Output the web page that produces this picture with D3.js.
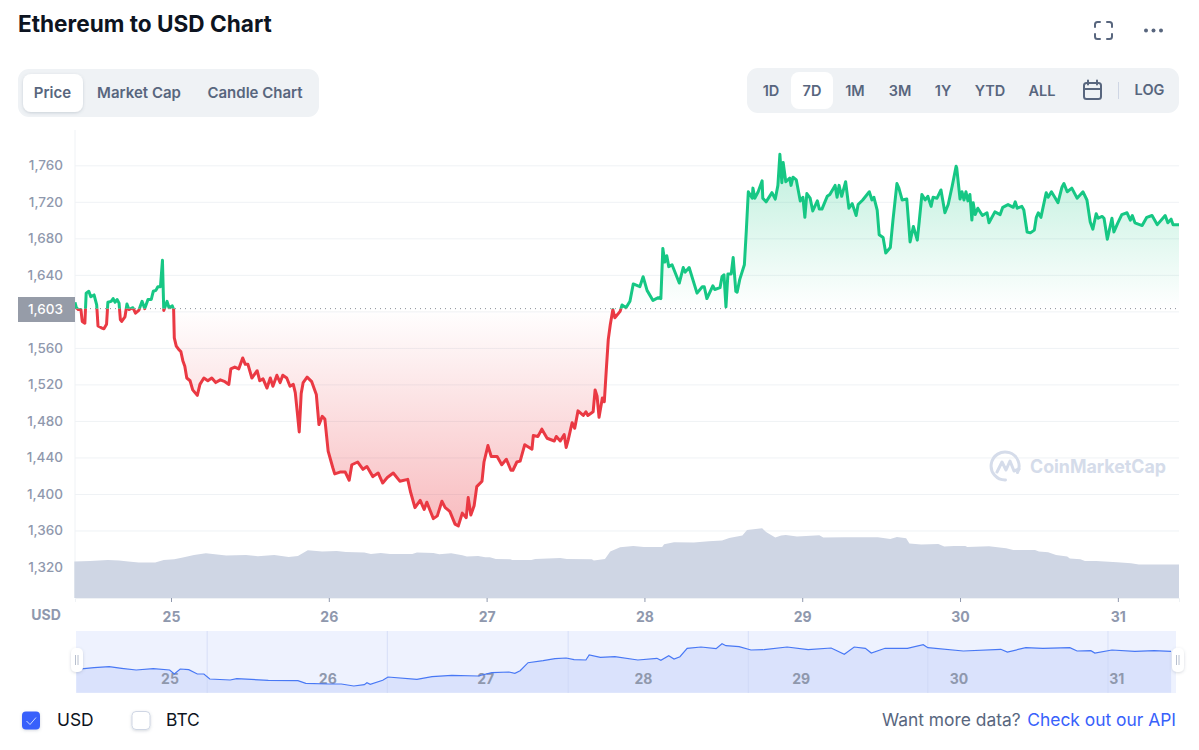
<!DOCTYPE html>
<html><head><meta charset="utf-8">
<script src="https://cdn.jsdelivr.net/npm/d3@7/dist/d3.min.js"></script>
<style>
html,body{margin:0;padding:0;background:#fff;overflow:hidden}
svg{display:block}
text{font-family:Inter,"Noto Sans",sans-serif}
</style></head><body>
<svg id="c" width="1199" height="750"></svg>
<script>
// hours since 00:00 on the 24th
const priceHours=[9.4,9.6,9.9,10.3,10.5,10.9,11.1,11.5,11.8,12.3,12.7,12.9,13.4,13.8,14.2,14.4,14.9,15.2,15.5,15.8,16.1,16.3,16.5,17.0,17.3,17.6,18.2,18.6,19.1,19.6,20.0,20.5,21.0,21.3,21.7,22.0,22.4,22.7,22.9,23.4,23.7,24.2,24.4,24.5,24.8,25.2,25.5,25.8,26.1,26.4,26.9,27.3,28.0,28.4,29.0,29.6,30.2,30.8,31.5,32.2,32.8,33.1,33.7,34.3,34.9,35.3,35.7,36.3,37.1,37.5,38.0,38.6,39.1,39.5,40.1,40.6,41.0,41.6,42.1,42.6,42.9,43.2,43.5,43.8,44.1,44.7,45.4,46.1,46.5,47.0,47.4,47.9,48.6,48.9,49.7,50.5,51.1,51.5,52.4,53.2,53.8,54.7,55.5,56.2,56.9,57.8,58.8,60.0,60.4,61.1,61.9,62.5,62.9,63.9,64.5,65.2,65.7,66.4,67.2,67.7,68.3,68.9,69.2,69.6,70.1,70.5,71.3,71.6,72.2,72.7,73.6,74.3,75.0,75.7,76.0,76.6,77.1,77.8,78.9,79.1,79.8,80.4,81.2,82.3,82.6,83.2,83.8,84.1,84.4,85.0,85.4,85.9,86.7,87.1,87.4,88.2,88.5,88.8,89.1,89.6,89.9,90.2,90.5,90.8,91.2,91.5,92.3,92.6,93.2,93.8,94.3,95.3,95.8,96.4,97.3,98.1,98.5,98.8,99.1,99.4,99.7,100.2,101.3,101.9,102.2,102.8,104.0,104.8,105.1,105.5,106.4,106.7,107.5,107.8,108.1,108.4,108.7,109.2,109.5,109.9,110.1,110.5,111.2,111.5,111.8,112.4,112.5,112.8,113.3,113.9,114.0,114.5,115.4,115.9,116.3,116.6,116.9,117.1,117.5,118.1,118.3,118.6,119.1,119.7,120.1,120.4,120.7,121.2,121.6,122.3,122.6,123.0,123.8,124.2,125.0,125.3,125.6,126.0,126.6,127.1,127.6,128.2,128.5,129.2,130.2,130.6,130.9,131.4,131.7,132.3,132.7,133.4,133.8,134.4,134.7,135.2,135.9,136.4,136.9,137.5,137.8,138.2,138.7,139.1,139.6,139.9,140.5,141.1,141.7,142.2,142.8,143.4,143.5,144.0,144.3,144.6,144.9,145.2,145.5,145.8,146.0,146.3,146.7,147.4,148.1,148.4,149.3,150.1,150.5,151.3,152.1,152.4,152.7,153.4,153.7,154.2,154.7,155.3,155.6,155.9,156.3,157.1,157.4,157.9,158.5,158.9,159.5,159.8,160.3,161.0,161.8,162.7,163.3,163.8,164.2,164.7,165.0,165.6,165.9,166.4,167.1,167.4,168.0,168.6,169.4,169.9,170.2,170.6,171.7,172.4,173.2,174.0,175.2,175.6,176.1,176.4,177.3];
const prices=[1610,1604,1602,1602,1589,1587,1620,1622,1616,1618,1607,1584,1582,1581,1586,1610,1611,1614,1610,1613,1609,1591,1589,1594,1608,1602,1604,1598,1601,1611,1603,1613,1613,1622,1623,1627,1627,1656,1601,1611,1604,1606,1602,1571,1562,1558,1556,1546,1540,1527,1524,1514,1508,1520,1527,1524,1527,1522,1525,1523,1520,1537,1539,1537,1549,1542,1542,1527,1535,1524,1526,1516,1527,1518,1530,1522,1530,1527,1518,1520,1511,1490,1468,1510,1522,1528,1523,1509,1476,1485,1482,1447,1429,1422,1424,1424,1415,1432,1435,1427,1430,1419,1423,1412,1418,1423,1414,1416,1403,1385,1393,1383,1391,1373,1376,1392,1385,1381,1367,1365,1379,1374,1396,1377,1387,1408,1414,1435,1453,1441,1441,1432,1438,1426,1426,1435,1436,1454,1449,1464,1463,1471,1461,1458,1463,1458,1465,1451,1459,1478,1472,1491,1486,1490,1486,1490,1514,1507,1484,1505,1501,1536,1569,1585,1602,1593,1600,1607,1604,1611,1630,1627,1638,1623,1612,1615,1614,1669,1654,1661,1649,1651,1631,1648,1643,1648,1620,1627,1627,1614,1628,1624,1626,1638,1640,1605,1641,1641,1659,1622,1621,1635,1651,1689,1731,1724,1735,1724,1731,1743,1724,1720,1730,1723,1738,1772,1741,1763,1742,1746,1738,1747,1744,1721,1725,1703,1729,1724,1710,1721,1712,1712,1726,1728,1738,1725,1738,1726,1742,1713,1718,1705,1717,1722,1731,1722,1725,1711,1684,1681,1664,1670,1700,1740,1735,1722,1723,1676,1693,1678,1699,1728,1722,1726,1715,1725,1724,1733,1708,1717,1737,1759,1757,1723,1731,1722,1731,1721,1728,1700,1719,1706,1713,1705,1708,1697,1709,1706,1714,1717,1714,1720,1713,1715,1711,1687,1686,1689,1703,1708,1703,1730,1725,1731,1724,1719,1736,1740,1731,1735,1724,1731,1722,1698,1690,1707,1702,1704,1702,1679,1702,1687,1697,1706,1708,1700,1705,1697,1694,1703,1705,1695,1705,1697,1701,1695,1695];
const volumeHours=[9.3,11.7,14.4,16.1,17.5,19.1,21.6,22.9,24.5,25.8,27.5,29.3,32.4,35.4,37.2,39.7,41.9,43.3,44.8,47.0,49.2,50.6,53.4,54.4,55.9,57.3,60.7,61.4,63.9,64.8,66.6,68.3,69.0,70.7,71.8,72.5,73.4,75.6,75.9,78.8,79.4,83.2,84.2,88.0,88.3,90.0,90.8,92.3,94.3,95.9,98.7,99.0,100.5,103.5,105.8,107.8,108.9,110.9,111.6,113.9,114.5,115.9,116.8,117.5,119.2,120.6,122.6,123.2,126.5,128.2,131.5,133.4,134.4,135.8,136.3,138.1,140.7,141.6,143.1,144.8,145.1,148.4,151.0,152.1,155.4,156.0,157.4,158.6,160.3,160.7,162.3,163.0,164.7,167.9,170.0,171.2,177.3];
const volumes=[18.2,18.5,19.0,18.7,18.2,17.7,17.7,19.0,19.4,20.2,21.5,22.4,21.2,21.5,20.9,21.5,20.5,21.0,23.9,23.2,23.5,23.0,22.7,22.0,22.5,22.0,22.0,22.7,22.5,21.9,22.4,21.4,20.7,21.0,20.4,20.4,19.5,19.4,19.0,19.0,19.5,20.0,19.5,19.4,18.7,19.5,23.2,25.4,26.0,25.5,25.5,26.9,27.9,27.7,28.4,28.7,30.0,31.2,34.0,34.9,33.0,30.2,31.2,31.5,30.7,31.0,31.4,30.2,30.4,30.4,30.4,29.5,30.5,29.9,27.2,26.7,27.0,25.7,26.0,26.0,25.5,25.9,24.9,24.0,24.0,23.2,22.9,21.5,20.7,19.7,19.4,18.5,18.5,17.9,17.4,16.7,16.7];
const navHours=[9.6,12.3,14.6,16.5,18.7,21.3,23.8,24.5,25.4,26.7,28.0,29.0,29.9,33.0,34.0,38.8,43.3,44.5,48.0,49.9,51.8,53.4,53.8,54.3,56.2,57.0,61.4,63.7,66.7,70.7,72.8,75.4,76.3,77.1,78.3,80.6,82.4,84.1,85.3,87.1,87.6,89.3,91.5,95.0,97.9,98.5,99.7,100.5,101.4,102.5,104.6,106.9,107.8,108.4,110.4,112.2,114.2,117.7,120.9,124.4,126.4,127.9,129.6,130.5,132.6,136.0,138.4,139.1,144.5,150.2,151.2,154.0,156.6,160.7,161.8,163.9,164.5,167.1,170.6,173.5,176.1];
const navValues=[1234,1250,1260,1244,1227,1240,1227,1187,1237,1230,1187,1187,1137,1127,1140,1124,1120,1094,1087,1087,1067,1080,1100,1084,1124,1157,1134,1160,1174,1167,1200,1207,1194,1220,1300,1320,1340,1347,1330,1327,1377,1354,1360,1327,1344,1324,1370,1337,1360,1444,1457,1440,1490,1470,1460,1427,1430,1457,1430,1447,1384,1457,1444,1397,1444,1444,1480,1450,1417,1434,1407,1450,1444,1450,1417,1420,1397,1427,1414,1420,1414];
const navGridHours=[29.5,56.9,84.4,111.8,139.1,166.5];
const basePrice=1603;
const yTicks=[1320,1360,1400,1440,1480,1520,1560,1600,1640,1680,1720,1760];
const dayTicks=[24,48,72,96,120,144,168];
const dayLabels=["25","26","27","28","29","30","31"];
const typeTabs=["Price","Market Cap","Candle Chart"];
const rangeTabs=["1D","7D","1M","3M","1Y","YTD","ALL"];

const svg=d3.select("#c");
const gray="#58667e",tick="#8f98ad",grid="#eff2f5";
const x=d3.scaleLinear().domain([9.4,177.3]).range([75,1179]);
const y=d3.scaleLinear().domain([1320,1760]).range([567,165.3]);
const vol=d3.scaleLinear().domain([0,35]).range([598,528]);
const nav=d3.scaleLinear().domain([1000,1617]).range([692.7,631]);
const pts=priceHours.map((h,i)=>[h,prices[i]]);
const by=y(basePrice);

const defs=svg.append("defs");
function grad(id,y1,y2,c,a1,a2){const g=defs.append("linearGradient").attr("id",id).attr("gradientUnits","userSpaceOnUse").attr("x1",0).attr("x2",0).attr("y1",y1).attr("y2",y2);
 g.append("stop").attr("offset",0).attr("stop-color",c).attr("stop-opacity",a1);
 g.append("stop").attr("offset",1).attr("stop-color",c).attr("stop-opacity",a2);}
grad("gG",y(1772),by,"#16c784",.28,0);
grad("gR",by,y(1365),"#ea3943",0,.34);
defs.append("clipPath").attr("id","up").append("rect").attr("x",70).attr("y",100).attr("width",1112).attr("height",by-100);
defs.append("clipPath").attr("id","dn").append("rect").attr("x",70).attr("y",by).attr("width",1112).attr("height",598-by);
const sh=defs.append("filter").attr("id","sh").attr("x","-40%").attr("y","-40%").attr("width","180%").attr("height","180%");
sh.append("feDropShadow").attr("dx",0).attr("dy",1).attr("stdDeviation",1.5).attr("flood-color","#58667e").attr("flood-opacity",.25);

// header
svg.append("text").attr("x",18).attr("y",32).attr("font-size",22.6).attr("font-weight",700).attr("fill","#0d1421").text("Ethereum to USD Chart");
const fs=svg.append("g").attr("fill","none").attr("stroke",gray).attr("stroke-width",2).attr("stroke-linecap","round");
fs.append("path").attr("d","M1095 27v-2.500a2.500 2.500 0 0 1 2.500-2.500h2.500M1107 22h2.500a2.500 2.500 0 0 1 2.500 2.500v2.500M1112 34v2.500a2.500 2.500 0 0 1-2.500 2.500h-2.500M1100 39h-2.500a2.500 2.500 0 0 1-2.500-2.500v-2.500");
[1146,1153.500,1161].forEach(c=>svg.append("circle").attr("cx",c).attr("cy",30.500).attr("r",2).attr("fill",gray));

svg.append("rect").attr("x",18).attr("y",69).attr("width",301).attr("height",48).attr("rx",11).attr("fill",grid);
svg.append("rect").attr("x",23).attr("y",74).attr("width",60).attr("height",38).attr("rx",8).attr("fill","#fff").attr("filter","url(#sh)");
const typeX=[52.500,139,255];
typeTabs.forEach((t,i)=>svg.append("text").attr("x",typeX[i]).attr("y",98).attr("text-anchor","middle").attr("font-size",15).attr("font-weight",600).attr("fill",gray).text(t));

svg.append("rect").attr("x",747).attr("y",68).attr("width",432).attr("height",45).attr("rx",11).attr("fill",grid);
svg.append("rect").attr("x",791).attr("y",72).attr("width",42).attr("height",37).attr("rx",8).attr("fill","#fff");
const rangeX=[771,812,855,900,943,990,1042];
rangeTabs.forEach((t,i)=>svg.append("text").attr("x",rangeX[i]).attr("y",96).attr("text-anchor","middle").attr("font-size",14.500).attr("font-weight",600).attr("fill",gray).text(t));
const cal=svg.append("g").attr("fill","none").attr("stroke",gray).attr("stroke-width",2);
cal.append("rect").attr("x",1084).attr("y",83).attr("width",17).attr("height",16).attr("rx",2.500);
cal.append("path").attr("d","M1084 89h17M1088 80.500v4M1097 80.500v4").attr("stroke-linecap","round");
svg.append("line").attr("x1",1118.500).attr("x2",1118.500).attr("y1",82).attr("y2",99).attr("stroke","#cfd6e4");
svg.append("text").attr("x",1149.500).attr("y",95).attr("text-anchor","middle").attr("font-size",14.500).attr("font-weight",600).attr("fill",gray).text("LOG");

// y axis + grid
const yAxis=svg.append("g").attr("transform","translate(75,0)").call(d3.axisLeft(y).tickValues(yTicks).tickFormat(d3.format(",")).tickSize(-1104).tickPadding(12));
yAxis.select(".domain").remove();
yAxis.selectAll("line").attr("stroke",grid);
yAxis.selectAll("text").attr("font-size",13.500).attr("font-weight",500).attr("fill",tick).attr("font-family","Inter");
svg.append("line").attr("x1",75).attr("x2",75).attr("y1",130).attr("y2",598).attr("stroke",grid);

// watermark
const wm=svg.append("g");
wm.append("path").attr("d","M1017.500 472.500A14 14 0 1 0 1005.500 480").attr("fill","none").attr("stroke","#d5dcea").attr("stroke-width",3).attr("stroke-linecap","round");
wm.append("path").attr("d","M997 472l5-10 4 8 4-9 4 10 5-2").attr("fill","none").attr("stroke","#d5dcea").attr("stroke-width",3).attr("stroke-linejoin","round").attr("stroke-linecap","round");
wm.append("text").attr("x",1030).attr("y",473).attr("font-size",18.500).attr("font-weight",700).attr("fill","#d5dcea").attr("textLength",136).attr("lengthAdjust","spacingAndGlyphs").text("CoinMarketCap");

// volume
svg.append("path").datum(volumeHours.map((h,i)=>[h,volumes[i]]))
 .attr("d",d3.area().x(d=>x(d[0])).y0(vol(0)).y1(d=>vol(d[1])))
 .attr("fill","#cfd6e4");

// price areas
const area=d3.area().x(d=>x(d[0])).y0(by).y1(d=>y(d[1]));
svg.append("path").datum(pts).attr("d",area).attr("fill","url(#gG)").attr("clip-path","url(#up)");
svg.append("path").datum(pts).attr("d",area).attr("fill","url(#gR)").attr("clip-path","url(#dn)");
// baseline
svg.append("line").attr("x1",75).attr("x2",1179).attr("y1",by).attr("y2",by).attr("stroke","#8a8f99").attr("stroke-width",1).attr("stroke-dasharray","1 4");
// price line
const line=d3.line().x(d=>x(d[0])).y(d=>y(d[1])).curve(d3.curveLinear);
svg.append("path").datum(pts).attr("d",line).attr("fill","none").attr("stroke","#16c784").attr("stroke-width",3).attr("stroke-linejoin","round").attr("clip-path","url(#up)");
svg.append("path").datum(pts).attr("d",line).attr("fill","none").attr("stroke","#ea3943").attr("stroke-width",3).attr("stroke-linejoin","round").attr("clip-path","url(#dn)");

// base label
svg.append("rect").attr("x",18).attr("y",297).attr("width",57).attr("height",25).attr("fill","#969ca8");
svg.append("text").attr("x",63).attr("y",314).attr("text-anchor","end").attr("font-size",13.500).attr("font-weight",500).attr("fill","#fff").text(d3.format(",")(basePrice));

// x axis
const xAxis=svg.append("g").attr("transform","translate(0,598)").call(d3.axisBottom(x).tickValues(dayTicks).tickFormat((d,i)=>dayLabels[i]).tickSize(4).tickPadding(10));
xAxis.select(".domain").attr("stroke",grid);
xAxis.selectAll("line").attr("stroke","#8f98ad");
xAxis.selectAll("text").attr("font-size",14).attr("font-weight",700).attr("fill",tick).attr("font-family","Inter");
svg.append("text").attr("x",46).attr("y",620).attr("text-anchor","middle").attr("font-size",14).attr("font-weight",700).attr("fill",tick).text("USD");

// navigator
svg.append("rect").attr("x",76).attr("y",631).attr("width",1100).attr("height",62).attr("fill","#eef2fe");
defs.append("clipPath").attr("id","navc").append("rect").attr("x",76).attr("y",631).attr("width",1100).attr("height",62);
const navPts=navHours.map((h,i)=>[h,navValues[i]]);
const navG=svg.append("g").attr("clip-path","url(#navc)");
navG.append("path").datum(navPts).attr("d",d3.area().x(d=>x(d[0])).y0(nav(1000)).y1(d=>nav(d[1]))).attr("fill","#dae2fc");
navG.selectAll(".ng").data(navGridHours).join("line").attr("x1",d=>x(d)).attr("x2",d=>x(d)).attr("y1",631).attr("y2",693).attr("stroke","#c9d4f3").attr("stroke-opacity",.6);
navG.selectAll(".nl").data(dayTicks).join("text").attr("x",d=>x(d)-1).attr("y",684).attr("text-anchor","middle").attr("font-size",14).attr("font-weight",700).attr("fill","#8f98ad").text((d,i)=>dayLabels[i]);
navG.append("path").datum(navPts).attr("d",d3.line().x(d=>x(d[0])).y(d=>nav(d[1]))).attr("fill","none").attr("stroke","#4878f5").attr("stroke-width",1.200);
[[71,75.500],[1172,1176.500]].forEach(([hx,lx])=>{
 svg.append("rect").attr("x",hx).attr("y",648).attr("width",12).attr("height",24).attr("rx",5).attr("fill","#fff").attr("filter","url(#sh)");
 [0,2.500].forEach(o=>svg.append("line").attr("x1",lx+o).attr("x2",lx+o).attr("y1",655).attr("y2",665).attr("stroke","#a6b0c3").attr("stroke-width",.8));
});

// legend
svg.append("rect").attr("x",22).attr("y",711.500).attr("width",18).attr("height",18).attr("rx",4).attr("fill","#3861fb").attr("filter","url(#sh)");
svg.append("path").attr("d","M26.500 721l3.500 3.500 6-7").attr("fill","none").attr("stroke","#cfdcff").attr("stroke-width",1);
svg.append("text").attr("x",57).attr("y",726).attr("font-size",17.4).attr("fill","#0d1421").text("USD");
svg.append("rect").attr("x",132).attr("y",711.500).attr("width",18).attr("height",18).attr("rx",4).attr("fill","#fff").attr("stroke","#cfd6e4").attr("filter","url(#sh)");
svg.append("text").attr("x",166).attr("y",726).attr("font-size",17.4).attr("fill","#0d1421").text("BTC");
svg.append("text").attr("x",882).attr("y",726).attr("font-size",17.4).attr("fill",gray).text("Want more data?");
svg.append("text").attr("x",1176).attr("y",726).attr("text-anchor","end").attr("font-size",17.4).attr("fill","#3861fb").text("Check out our API");
</script>
</body></html>
